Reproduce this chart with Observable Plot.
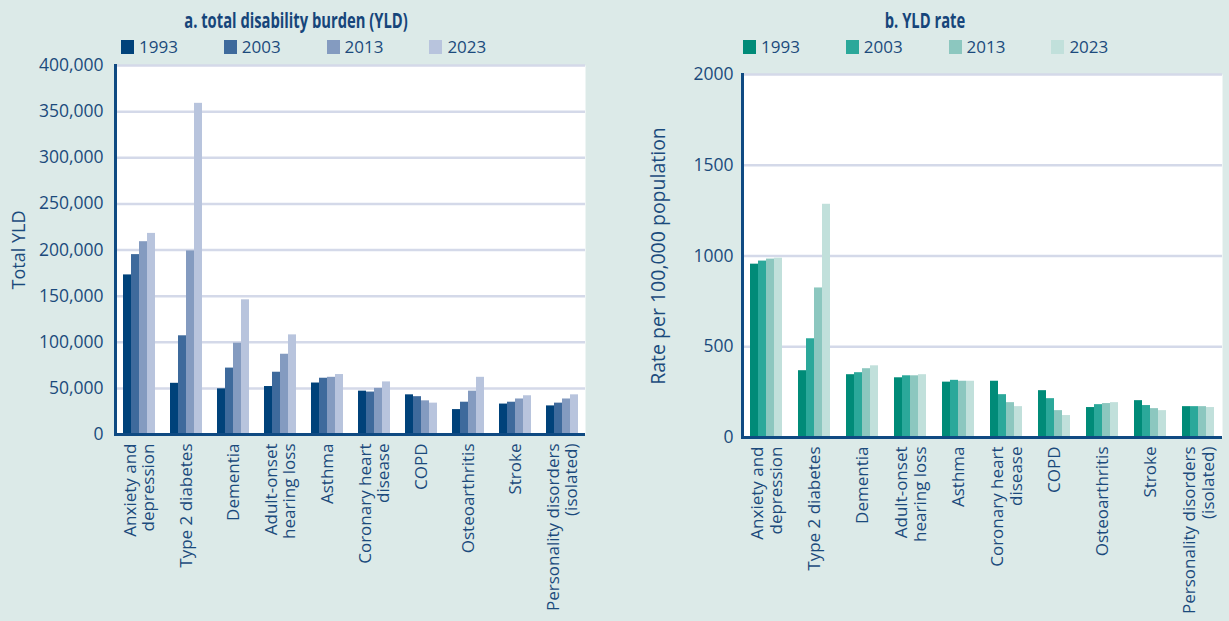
<!DOCTYPE html>
<html>
<head>
<meta charset="utf-8">
<script src="https://cdn.jsdelivr.net/npm/d3@7"></script>
<script src="https://cdn.jsdelivr.net/npm/@observablehq/plot@0.6"></script>
<style>
  html, body { margin: 0; padding: 0; background: #dceae8; width: 1229px; height: 621px; overflow: hidden; }
  body { font-family: "Open Sans", "Noto Sans", sans-serif; color: #1b4a7c; position: relative; }
  .panel { position: absolute; top: 0; width: 614px; height: 621px; }
  .title { position: absolute; top: 7px; font-family: "Open Sans", sans-serif; font-weight: bold; font-size: 20.5px; line-height: 26px; color: #16457a; white-space: nowrap; transform: translateX(-50%) scaleX(0.72); }
  .legend { position: absolute; top: 37px; display: flex; }
  .legend .item { width: 102.8px; display: flex; align-items: center; font-size: 17px; line-height: 20px; }
  .legend .sw { width: 13px; height: 14px; margin-right: 5px; }
  .chart { position: absolute; top: 45px; left: 0; }
</style>
</head>
<body>
<div class="panel" id="pa" style="left:0"></div>
<div class="panel" id="pb" style="left:615px"></div>
<script>
// ---- data ----
const categories = ["Anxiety and depression", "Type 2 diabetes", "Dementia", "Adult-onset hearing loss", "Asthma", "Coronary heart disease", "COPD", "Osteoarthritis", "Stroke", "Personality disorders (isolated)"];
const categoryLabels = ["Anxiety and\ndepression", "Type 2 diabetes", "Dementia", "Adult-onset\nhearing loss", "Asthma", "Coronary heart\ndisease", "COPD", "Osteoarthritis", "Stroke", "Personality disorders\n(isolated)"];
const years = ["1993", "2003", "2013", "2023"];

// a. total disability burden (YLD)
const yld1993 = [173000, 55500, 49500, 52000, 55800, 47000, 43000, 27000, 33000, 31000];
const yld2003 = [195000, 107000, 72000, 67500, 61000, 46000, 41000, 35000, 35000, 34000];
const yld2013 = [209000, 199000, 99000, 87000, 62000, 50000, 36500, 47000, 38500, 38500];
const yld2023 = [218000, 359000, 146000, 108000, 65000, 57000, 34000, 62000, 42000, 43000];
const yldTicks = [0, 50000, 100000, 150000, 200000, 250000, 300000, 350000, 400000];

// b. YLD rate (per 100,000 population)
const rate1993 = [955, 368, 346, 329, 305, 310, 258, 165, 203, 170];
const rate2003 = [972, 544, 357, 340, 315, 236, 214, 181, 176, 170];
const rate2013 = [983, 824, 379, 340, 310, 192, 148, 187, 159, 170];
const rate2023 = [988, 1285, 395, 346, 310, 170, 121, 192, 148, 165];
const rateTicks = [0, 500, 1000, 1500, 2000];

const blues = ["#00427a", "#3e6a9c", "#849bc0", "#b8c4dd"];
const greens = ["#008b78", "#2ba89a", "#8cc7bf", "#c1e0db"];

const navy = "#0f4a82";
const textColor = "#1b4a7c";
const gridColor = "#d4d9e9";

function rows(series) {
  const out = [];
  categories.forEach((c, i) => years.forEach((yr, j) => out.push({category: c, year: yr, value: series[j][i]})));
  return out;
}
const labelOf = new Map(categories.map((c, i) => [c, categoryLabels[i]]));

function panel(el, {title, titleX, legendX, colors, series, ticks, fmt, tickPadding, yLabel, labelSize, labelOffset, width, height, margins}) {
  const t = document.createElement("div");
  t.className = "title"; t.textContent = title; t.style.left = titleX + "px";
  el.appendChild(t);
  const lg = document.createElement("div");
  lg.className = "legend"; lg.style.left = legendX + "px";
  years.forEach((yr, j) => {
    const it = document.createElement("div"); it.className = "item";
    const sw = document.createElement("span"); sw.className = "sw"; sw.style.background = colors[j];
    const tx = document.createElement("span"); tx.textContent = yr;
    it.appendChild(sw); it.appendChild(tx); lg.appendChild(it);
  });
  el.appendChild(lg);

  const data = rows(series);
  const svg = Plot.plot({
    width, height,
    marginLeft: margins[0], marginRight: margins[1], marginTop: margins[2], marginBottom: margins[3],
    style: {background: "transparent", fontFamily: "'Open Sans', 'Noto Sans', sans-serif", fontSize: "17.5px", color: textColor, overflow: "visible"},
    fx: {domain: categories, padding: 0, label: null},
    x: {domain: years, paddingInner: 0, paddingOuter: 0.7, axis: null},
    y: {domain: [ticks[0], ticks[ticks.length - 1]]},
    color: {domain: years, range: colors},
    marks: [
      Plot.frame({fill: "white", facet: "super"}),
      Plot.gridY(ticks, {stroke: gridColor, strokeOpacity: 1, strokeWidth: 2.5}),
      Plot.barY(data, {fx: "category", x: "year", y: "value", fill: "year"}),
      Plot.ruleY([0], {stroke: navy, strokeWidth: 3}),
      Plot.frame({anchor: "left", stroke: navy, strokeWidth: 3, facet: "super"}),
      Plot.axisY({ticks, tickFormat: fmt, tickSize: 0, tickPadding, label: null, fill: textColor}),
      Plot.axisY({ticks: [], label: yLabel, labelAnchor: "center", labelArrow: "none", labelOffset, fontSize: labelSize, fill: textColor}),
      Plot.axisFx({anchor: "bottom", tickRotate: -90, tickSize: 0, tickPadding: 9, tickFormat: c => labelOf.get(c), label: null, lineHeight: 1.1, fontSize: 17, fill: textColor})
    ]
  });
  svg.classList.add("chart");
  el.appendChild(svg);
}

panel(document.getElementById("pa"), {
  title: "a. total disability burden (YLD)", titleX: 296, legendX: 121,
  colors: blues, series: [yld1993, yld2003, yld2013, yld2023], ticks: yldTicks,
  fmt: d3.format(","), tickPadding: 12, yLabel: "Total YLD", labelSize: 18, labelOffset: 103,
  width: 600, height: 576, margins: [112, 13, 20, 187]
});
panel(document.getElementById("pb"), {
  title: "b. YLD rate", titleX: 310, legendX: 128,
  colors: greens, series: [rate1993, rate2003, rate2013, rate2023], ticks: rateTicks,
  fmt: d => String(d), tickPadding: 9, yLabel: "Rate per 100,000 population", labelSize: 19.5, labelOffset: 91,
  width: 614, height: 576, margins: [126, 7, 29, 184]
});
</script>
</body>
</html>
